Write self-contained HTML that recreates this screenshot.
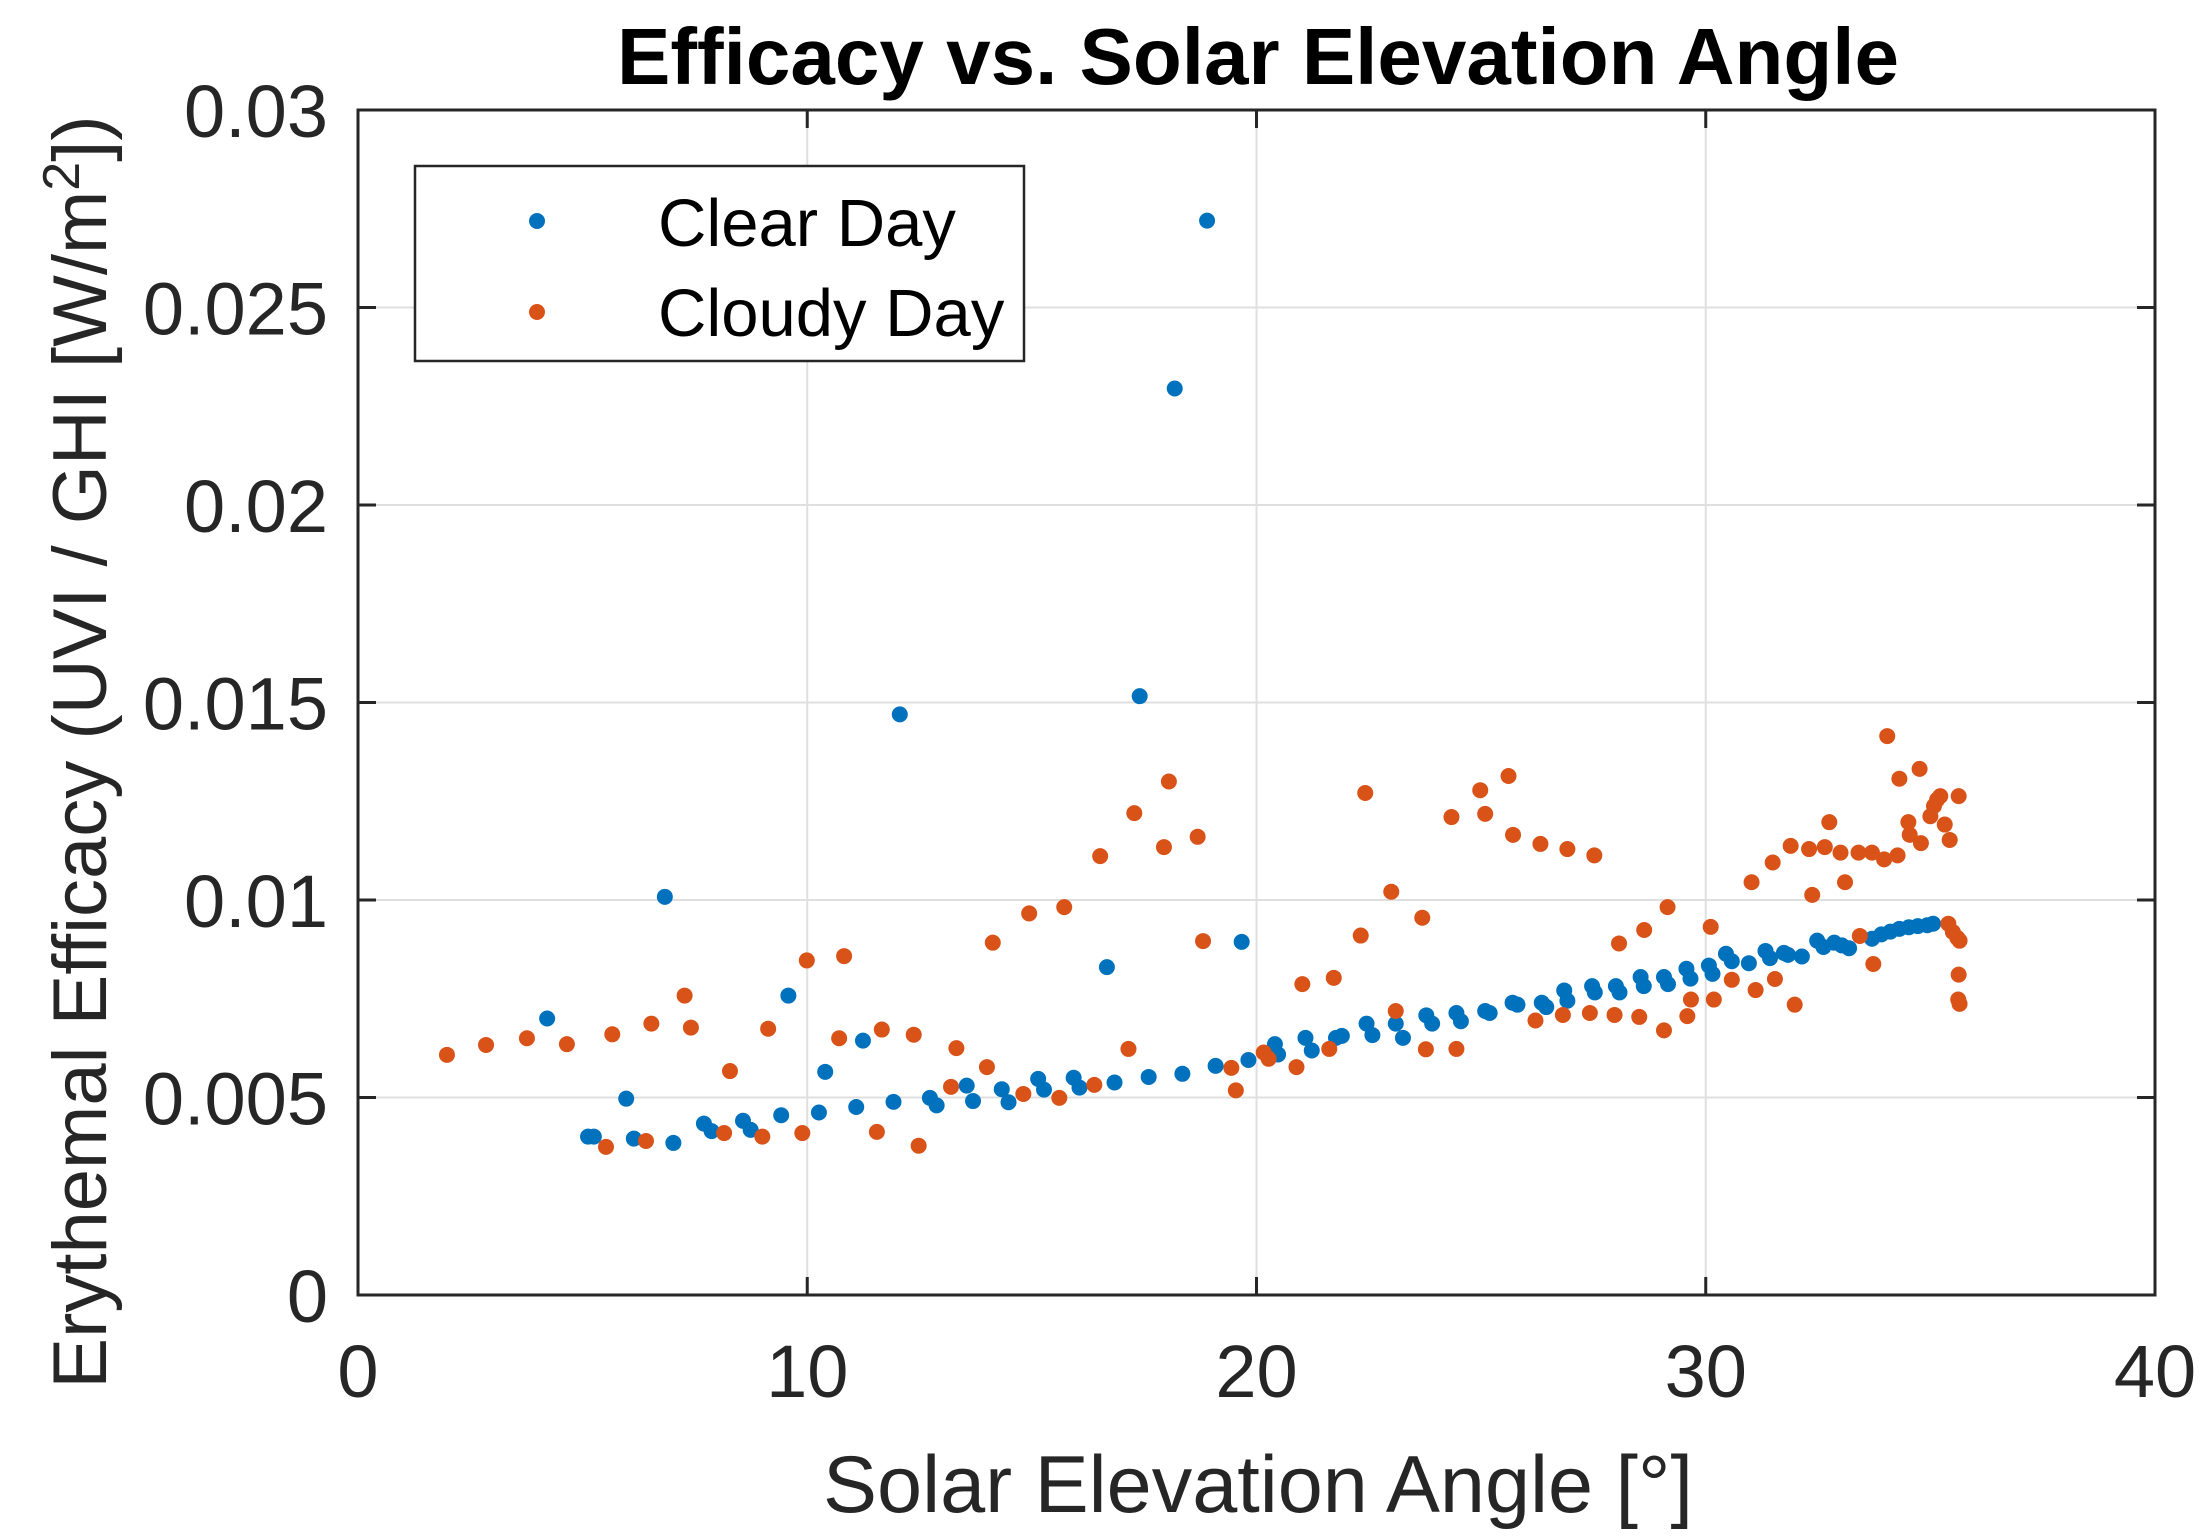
<!DOCTYPE html>
<html><head><meta charset="utf-8"><style>
html,body{margin:0;padding:0;background:#fff;}
svg{display:block;font-family:"Liberation Sans",Arial,sans-serif;}
</style></head><body>
<svg id="chart" width="2205" height="1538" viewBox="0 0 2205 1538" xmlns="http://www.w3.org/2000/svg">
<rect x="0" y="0" width="2205" height="1538" fill="#fff"/>
<g id="grid"></g>
<g id="ticks"></g>
<g id="clear"></g>
<g id="cloudy"></g>
<rect x="358" y="110" width="1797" height="1185" fill="none" stroke="#262626" stroke-width="3"/>
<text x="1258" y="84" font-size="80" font-weight="bold" text-anchor="middle" fill="#000">Efficacy vs. Solar Elevation Angle</text>
<text x="1258" y="1512" font-size="81" text-anchor="middle" fill="#262626">Solar Elevation Angle [°]</text>
<text transform="translate(106,752) rotate(-90)" font-size="76" text-anchor="middle" fill="#262626">Erythemal Efficacy (UVI / GHI [W/m<tspan dy="-27" font-size="52">2</tspan><tspan dy="27">])</tspan></text>
<g>
<rect x="415" y="166" width="609" height="195" fill="#fff" stroke="#262626" stroke-width="2.5"/>
<circle cx="537" cy="221" r="8" fill="#0072BD"/>
<text x="658" y="246" font-size="67" fill="#000">Clear Day</text>
<circle cx="537" cy="312" r="8" fill="#D95319"/>
<text x="658" y="336" font-size="67" fill="#000">Cloudy Day</text>
</g>
</svg>
<script>
const xTicks=[0,10,20,30,40];
const yTicks=[0,0.005,0.01,0.015,0.02,0.025,0.03];
const yTickLabels=["0","0.005","0.01","0.015","0.02","0.025","0.03"];
const clearX=[4.21,5.12,5.25,5.97,6.14,6.83,7.02,7.7,7.87,8.57,8.74,9.42,9.58,10.26,10.4,11.09,11.24,11.92,12.06,12.73,12.88,13.55,13.69,14.33,14.48,15.14,15.27,15.93,16.06,16.67,16.84,17.4,17.6,18.18,18.35,18.9,19.09,19.67,19.82,20.41,20.48,21.09,21.23,21.77,21.9,22.45,22.58,23.1,23.26,23.78,23.91,24.45,24.55,25.09,25.19,25.7,25.81,26.35,26.45,26.85,26.92,27.47,27.53,28.0,28.08,28.55,28.62,29.07,29.16,29.57,29.66,30.07,30.15,30.45,30.58,30.96,31.33,31.43,31.74,31.83,32.14,32.48,32.62,32.86,33.03,33.19,33.7,33.91,34.11,34.31,34.52,34.72,34.93,35.06];
const clearY=[0.0070,0.00401,0.00401,0.00497,0.00396,0.01008,0.00385,0.00434,0.00415,0.00441,0.00418,0.00455,0.00758,0.00462,0.00565,0.00476,0.00644,0.00489,0.0147,0.00499,0.0048,0.0053,0.00491,0.00521,0.00488,0.00547,0.0052,0.0055,0.00525,0.0083,0.00538,0.01516,0.00552,0.02295,0.0056,0.0272,0.0058,0.00894,0.00595,0.00635,0.00609,0.00651,0.00619,0.00651,0.00656,0.00687,0.00658,0.00687,0.00651,0.00708,0.00687,0.00714,0.00693,0.00719,0.00714,0.0074,0.00735,0.0074,0.00729,0.00771,0.00745,0.00782,0.00766,0.00782,0.00766,0.00805,0.00782,0.00805,0.00787,0.00826,0.00801,0.00834,0.00813,0.00864,0.00845,0.0084,0.00871,0.00853,0.00866,0.00861,0.00857,0.00897,0.00881,0.00892,0.00885,0.00878,0.00902,0.00913,0.0092,0.00927,0.00931,0.00934,0.00936,0.0094];
const cloudyX=[1.98,2.85,3.76,4.65,5.52,5.66,6.41,6.53,7.27,7.41,8.15,8.28,9.0,9.13,9.89,9.99,10.71,10.82,11.55,11.66,12.37,12.48,13.2,13.32,14.0,14.13,14.81,14.94,15.61,15.72,16.39,16.52,17.15,17.28,17.94,18.05,18.69,18.81,19.44,19.54,20.16,20.27,20.89,21.02,21.62,21.72,22.32,22.42,23.0,23.1,23.69,23.77,24.34,24.45,24.98,25.09,25.61,25.71,26.21,26.32,26.82,26.92,27.42,27.52,27.97,28.07,28.52,28.63,29.07,29.15,29.59,29.67,30.11,30.18,30.58,31.02,31.11,31.49,31.54,31.89,31.98,32.3,32.37,32.65,32.75,33.0,33.1,33.4,33.43,33.7,33.73,33.97,34.04,34.27,34.31,34.51,34.54,34.76,34.79,35.0,35.08,35.15,35.22,35.32,35.43,35.4,35.5,35.6,35.65,35.63,35.63,35.62,35.65];
const cloudyY=[0.00608,0.00633,0.0065,0.00635,0.00375,0.0066,0.0039,0.00687,0.00758,0.00677,0.0041,0.00567,0.00401,0.00674,0.0041,0.00847,0.0065,0.00858,0.00413,0.00672,0.00659,0.00378,0.00527,0.00625,0.00577,0.00892,0.00509,0.00966,0.00499,0.00982,0.00532,0.01111,0.00623,0.0122,0.01134,0.013,0.0116,0.00896,0.00575,0.00518,0.00614,0.00598,0.00577,0.00787,0.00623,0.00803,0.0091,0.01271,0.01021,0.00719,0.00955,0.00622,0.0121,0.00623,0.01278,0.01218,0.01314,0.01165,0.00695,0.01142,0.00709,0.01129,0.00714,0.01113,0.00709,0.0089,0.00704,0.00924,0.0067,0.00982,0.00706,0.00748,0.00932,0.00748,0.00798,0.01045,0.00772,0.01095,0.008,0.01137,0.00735,0.01129,0.01013,0.01134,0.01197,0.0112,0.01045,0.0112,0.00909,0.0112,0.00838,0.01103,0.01415,0.01113,0.01307,0.01197,0.01165,0.01332,0.01144,0.01212,0.01238,0.01254,0.01263,0.01191,0.01152,0.0094,0.00919,0.00904,0.00897,0.01263,0.00811,0.00748,0.00737];
const L=358,R=2155,T=110,B=1295;
function xs(v){return L+(v-0)/(40-0)*(R-L);}
function ys(v){return B-(v-0)/(0.03-0)*(B-T);}
const NS="http://www.w3.org/2000/svg";
function mk(tag,attrs,parent){const e=document.createElementNS(NS,tag);for(const k in attrs)e.setAttribute(k,attrs[k]);parent.appendChild(e);return e;}
const grid=document.getElementById('grid'),ticks=document.getElementById('ticks');
xTicks.forEach((t,i)=>{
  const x=xs(t);
  if(i>0&&i<xTicks.length-1){const g=mk('line',{x1:x,x2:x,y1:T,y2:B,stroke:'#dfdfdf','stroke-width':2},grid);
  
  }
  const tk=mk('line',{x1:x,x2:x,y1:B,y2:B-18,stroke:'#262626','stroke-width':3},ticks);
  
  
  const tk2=mk('line',{x1:x,x2:x,y1:T,y2:T+18,stroke:'#262626','stroke-width':3},ticks);
  
  
  const lb=mk('text',{x:x,y:1397,'font-size':74,'text-anchor':'middle',fill:'#262626'},ticks);
  lb.textContent=String(t);
  
  
});
yTicks.forEach((t,i)=>{
  const y=ys(t);
  if(i>0&&i<yTicks.length-1){const g=mk('line',{x1:L,x2:R,y1:y,y2:y,stroke:'#dfdfdf','stroke-width':2},grid);
  
  }
  const tk=mk('line',{x1:L,x2:L+18,y1:y,y2:y,stroke:'#262626','stroke-width':3},ticks);
  
  
  const tk2=mk('line',{x1:R,x2:R-18,y1:y,y2:y,stroke:'#262626','stroke-width':3},ticks);
  
  
  const lb=mk('text',{x:328,y:y+27,'font-size':74,'text-anchor':'end',fill:'#262626'},ticks);
  lb.textContent=yTickLabels[i];
  
  
});
const cg=document.getElementById('clear'),og=document.getElementById('cloudy');
cloudyX.forEach((v,i)=>{
  const c=mk('circle',{cx:xs(v),cy:ys(cloudyY[i]),r:8,fill:'#D95319'},og);
  
  
});
clearX.forEach((v,i)=>{
  const c=mk('circle',{cx:xs(v),cy:ys(clearY[i]),r:8,fill:'#0072BD'},cg);
  
  
});
</script>
</body></html>
